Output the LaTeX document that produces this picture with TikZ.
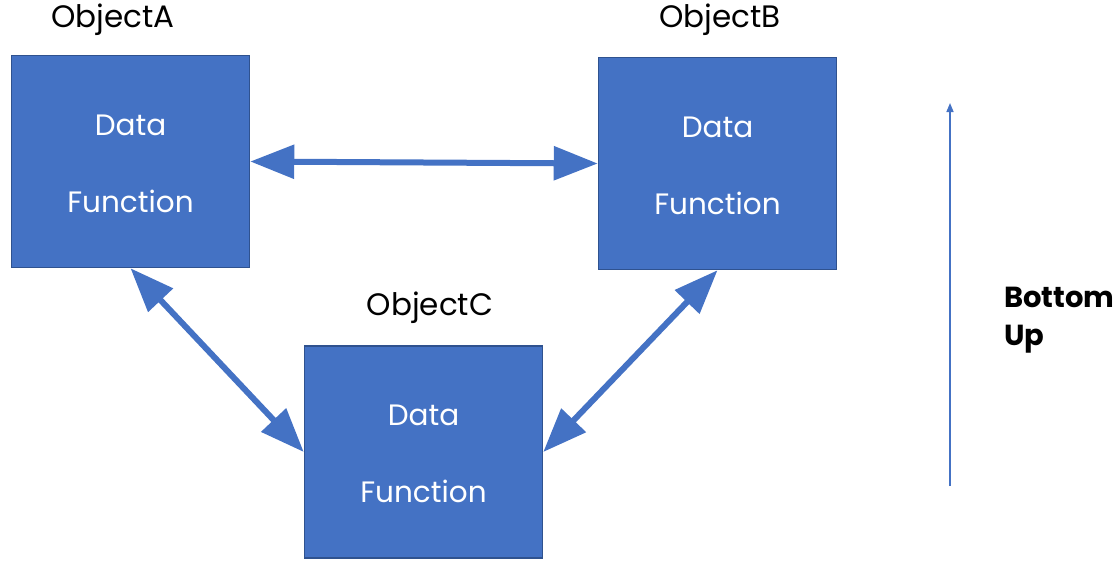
\documentclass[tikz,border=0pt]{standalone}
\usepackage{fontspec}
\setmainfont{Poppins}
\usetikzlibrary{arrows.meta}
\definecolor{boxfill}{HTML}{4472C4}
\definecolor{boxline}{HTML}{2F528F}
\tikzset{
  objbox/.style={draw=boxline, line width=1.5pt, fill=boxfill, text=white,
    minimum width=238pt, minimum height=212pt, inner sep=0pt, align=center,
    font=\fontsize{29.5}{77}\selectfont},
  objname/.style={font=\fontsize{31}{36}\selectfont, text=black, inner sep=0pt},
  link/.style={draw=boxfill, line width=6pt,
    {Triangle[length=44pt,width=33pt]}-{Triangle[length=44pt,width=33pt]}},
  flow/.style={draw=boxfill, line width=1.5pt, -{Triangle[length=9pt,width=7pt]}}
}
\begin{document}
\begin{tikzpicture}[x=1pt,y=-1pt]
  \useasboundingbox (0,0) rectangle (1119,560);
  % the three objects
  \node[objbox] (A) at (130.5,161.5) {};
  \node[objbox] (B) at (717.5,163.5) {};
  \node[objbox] (C) at (423.5,452) {};
  \node[text=white, font=\fontsize{29.5}{77}\selectfont, align=center] (tA) at ([yshift=-2pt]A.center) {Data\\Function};
  \node[text=white, font=\fontsize{29.5}{77}\selectfont, align=center] (tB) at ([yshift=-2pt]B.center) {Data\\Function};
  \node[text=white, font=\fontsize{29.5}{77}\selectfont, align=center] (tC) at ([yshift=-2pt]C.center) {Data\\Function};
  % their names
  \node[objname] (nA) at (113,20) {ObjectA};
  \node[objname] (nB) at (720,20) {ObjectB};
  \node[objname] (nC) at (430,308) {ObjectC};
  % two-way links between objects
  \draw[link] (A.east) -- (B.west);
  \draw[link] (A.south) -- (C.west);
  \draw[link] (B.south) -- (C.east);
  % direction indicator
  \coordinate (up0) at (950,486);
  \coordinate (up1) at (950,103);
  \draw[flow] (up0) -- (up1);
  \node[font=\bfseries\fontsize{29}{38}\selectfont, align=left, anchor=west, inner sep=0pt] (bu) at (1004,320) {Bottom\\Up};
\end{tikzpicture}
\end{document}
